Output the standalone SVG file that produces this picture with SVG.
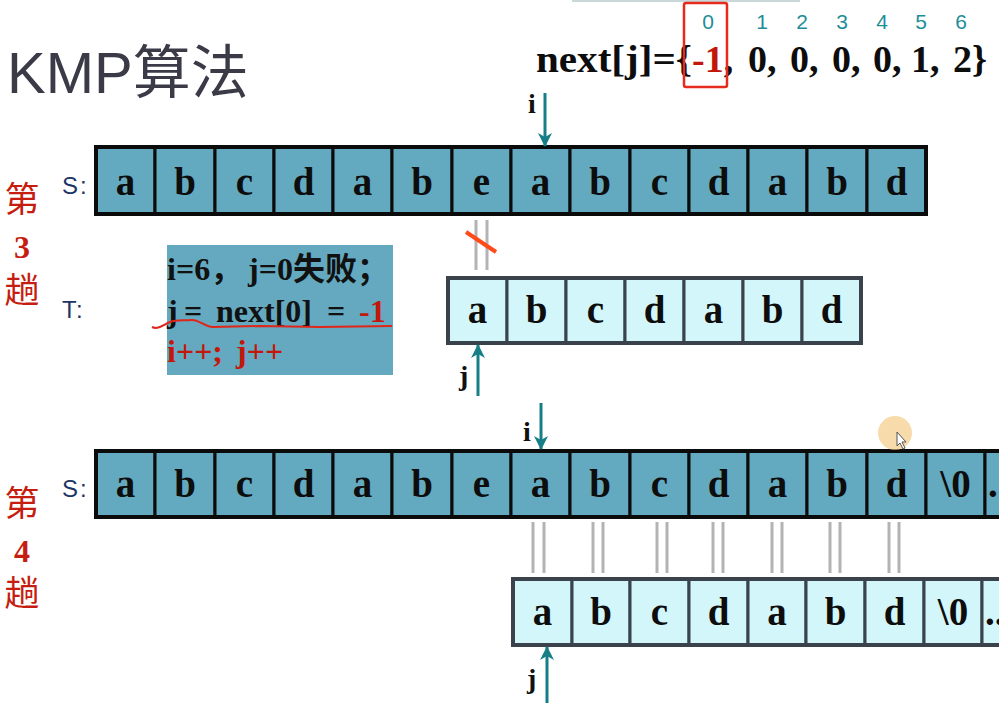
<svg xmlns="http://www.w3.org/2000/svg" width="999" height="710" viewBox="0 0 999 710">
<style>
.ch{font-family:"Liberation Serif",serif;font-weight:bold;font-size:39px;text-anchor:middle;fill:#0d0d0d}
.sc{fill:#63a9bf;stroke:#0b0b0b;stroke-width:3}
.tc{fill:#d3f6fb;stroke:#3a424c;stroke-width:3}
.lbl{font-family:"Liberation Sans","Noto Sans",sans-serif;font-size:24px;fill:#1d3566;letter-spacing:2px}
.trip{font-family:"Noto Sans CJK SC",sans-serif;font-size:35px;fill:#c51d10;text-anchor:middle}
.num{font-family:"Liberation Serif",serif;font-weight:bold;font-size:32px;fill:#c51d10;text-anchor:middle}
.ptr{font-family:"Liberation Serif",serif;font-weight:bold;font-size:28px;fill:#111}
.big{font-family:"Liberation Serif",serif;font-weight:bold;font-size:38px;fill:#0d0d0d}
.idx{font-family:"Liberation Sans","Noto Sans",sans-serif;font-size:21px;fill:#1d8e99;text-anchor:middle}
.box{font-family:"Liberation Serif","Noto Sans CJK SC",serif;font-weight:bold;font-size:32px;fill:#111}
.red{fill:#c3170c}
.eq{stroke:#b3b3b3;stroke-width:3}
.arr{stroke:#157e87;stroke-width:3;fill:none;marker-end:url(#ah)}
</style>
<defs>
<marker id="ah" viewBox="0 0 14 14" refX="13" refY="7" markerWidth="14" markerHeight="14" markerUnits="userSpaceOnUse" orient="auto">
<path d="M0,0 L14,7 L0,14 L4,7 z" fill="#157e87"/>
</marker>
</defs>
<rect x="572" y="0" width="228" height="2" fill="#c9d6da"/>
<g id="title"><text x="7" y="93" font-family="Liberation Sans,Noto Sans CJK SC,sans-serif" font-size="58" fill="#3b3b48">KMP算法</text></g>

<g id="next-array">
<text class="idx" y="29"><tspan x="708">0</tspan><tspan x="762">1</tspan><tspan x="802">2</tspan><tspan x="842">3</tspan><tspan x="882">4</tspan><tspan x="921">5</tspan><tspan x="961">6</tspan></text>
<text class="big" x="536" y="72" textLength="156" lengthAdjust="spacingAndGlyphs">next[j]={</text>
<text class="big" x="692" y="72"><tspan class="red">-1</tspan>,</text>
<text class="big" x="748" y="72">0,</text>
<text class="big" x="790" y="72">0,</text>
<text class="big" x="832" y="72">0,</text>
<text class="big" x="873" y="72">0,</text>
<text class="big" x="911" y="72">1,</text>
<text class="big" x="953" y="72">2}</text>
<rect x="684" y="3" width="43" height="84" rx="2" fill="none" stroke="#e62a1e" stroke-width="2.5"/>
</g>

<g id="trip3-label">
<text class="trip" x="22" y="212">第</text>
<text class="num" x="22" y="258">3</text>
<text class="trip" x="22" y="303">趟</text>
</g>
<g id="trip4-label">
<text class="trip" x="22" y="516">第</text>
<text class="num" x="22" y="562">4</text>
<text class="trip" x="22" y="606">趟</text>
</g>

<g id="S3">
<text class="lbl" x="62" y="194">S:</text>
<rect class="sc" x="96" y="147" width="59" height="67"/><text class="ch" x="125.5" y="195">a</text>
<rect class="sc" x="155" y="147" width="60" height="67"/><text class="ch" x="185" y="195">b</text>
<rect class="sc" x="215" y="147" width="59" height="67"/><text class="ch" x="244.5" y="195">c</text>
<rect class="sc" x="274" y="147" width="59" height="67"/><text class="ch" x="303.5" y="195">d</text>
<rect class="sc" x="333" y="147" width="59" height="67"/><text class="ch" x="362.5" y="195">a</text>
<rect class="sc" x="392" y="147" width="60" height="67"/><text class="ch" x="422" y="195">b</text>
<rect class="sc" x="452" y="147" width="59" height="67"/><text class="ch" x="481.5" y="195">e</text>
<rect class="sc" x="511" y="147" width="59" height="67"/><text class="ch" x="540.5" y="195">a</text>
<rect class="sc" x="570" y="147" width="60" height="67"/><text class="ch" x="600" y="195">b</text>
<rect class="sc" x="630" y="147" width="59" height="67"/><text class="ch" x="659.5" y="195">c</text>
<rect class="sc" x="689" y="147" width="59" height="67"/><text class="ch" x="718.5" y="195">d</text>
<rect class="sc" x="748" y="147" width="59" height="67"/><text class="ch" x="777.5" y="195">a</text>
<rect class="sc" x="807" y="147" width="60" height="67"/><text class="ch" x="837" y="195">b</text>
<rect class="sc" x="867" y="147" width="59" height="67"/><text class="ch" x="896.5" y="195">d</text>
<rect x="96" y="147" width="830" height="67" fill="none" stroke="#0b0b0b" stroke-width="4"/>
</g>

<g id="T3">
<text class="lbl" x="62" y="318">T:</text>
<rect class="tc" x="448" y="278" width="59" height="65"/><text class="ch" x="477.5" y="323">a</text>
<rect class="tc" x="507" y="278" width="59" height="65"/><text class="ch" x="536.5" y="323">b</text>
<rect class="tc" x="566" y="278" width="59" height="65"/><text class="ch" x="595.5" y="323">c</text>
<rect class="tc" x="625" y="278" width="59" height="65"/><text class="ch" x="654.5" y="323">d</text>
<rect class="tc" x="684" y="278" width="59" height="65"/><text class="ch" x="713.5" y="323">a</text>
<rect class="tc" x="743" y="278" width="59" height="65"/><text class="ch" x="772.5" y="323">b</text>
<rect class="tc" x="802" y="278" width="59" height="65"/><text class="ch" x="831.5" y="323">d</text>
<rect x="448" y="278" width="413" height="65" fill="none" stroke="#3a424c" stroke-width="4"/>
</g>

<g id="note">
<rect x="167" y="245" width="226" height="130" fill="#64a9bf"/>
<text class="box" y="280"><tspan x="167">i=6，</tspan><tspan x="248">j=0失败；</tspan></text>
<text class="box" y="322"><tspan x="167">j</tspan><tspan x="184">=</tspan><tspan x="216">next[0]</tspan><tspan x="327">=</tspan><tspan x="359" class="red">-1</tspan></text>
<text class="box red" y="362"><tspan x="167">i++;</tspan><tspan x="236">j++</tspan></text>
<path d="M152,327 C158,330 163,325 170,322 C178,319 185,321 191,320 C199,319 204,327 213,327 L260,326 L320,327 L392,326" fill="none" stroke="#e0261a" stroke-width="2"/>
</g>

<g id="S4">
<text class="lbl" x="62" y="497">S:</text>
<rect class="sc" x="96" y="451" width="59" height="66"/><text class="ch" x="125.5" y="497">a</text>
<rect class="sc" x="155" y="451" width="60" height="66"/><text class="ch" x="185" y="497">b</text>
<rect class="sc" x="215" y="451" width="59" height="66"/><text class="ch" x="244.5" y="497">c</text>
<rect class="sc" x="274" y="451" width="59" height="66"/><text class="ch" x="303.5" y="497">d</text>
<rect class="sc" x="333" y="451" width="59" height="66"/><text class="ch" x="362.5" y="497">a</text>
<rect class="sc" x="392" y="451" width="60" height="66"/><text class="ch" x="422" y="497">b</text>
<rect class="sc" x="452" y="451" width="59" height="66"/><text class="ch" x="481.5" y="497">e</text>
<rect class="sc" x="511" y="451" width="59" height="66"/><text class="ch" x="540.5" y="497">a</text>
<rect class="sc" x="570" y="451" width="60" height="66"/><text class="ch" x="600" y="497">b</text>
<rect class="sc" x="630" y="451" width="59" height="66"/><text class="ch" x="659.5" y="497">c</text>
<rect class="sc" x="689" y="451" width="59" height="66"/><text class="ch" x="718.5" y="497">d</text>
<rect class="sc" x="748" y="451" width="59" height="66"/><text class="ch" x="777.5" y="497">a</text>
<rect class="sc" x="807" y="451" width="60" height="66"/><text class="ch" x="837" y="497">b</text>
<rect class="sc" x="867" y="451" width="59" height="66"/><text class="ch" x="896.5" y="497">d</text>
<rect class="sc" x="926" y="451" width="59" height="66"/><text class="ch" x="955.5" y="497">\0</text>
<rect class="sc" x="985" y="451" width="59" height="66"/><text class="ch" x="988" y="497" style="text-anchor:start">...</text>
<rect x="96" y="451" width="960" height="66" fill="none" stroke="#0b0b0b" stroke-width="4"/>
</g>

<g id="T4">
<rect class="tc" x="513" y="579" width="59" height="66"/><text class="ch" x="542.5" y="625">a</text>
<rect class="tc" x="572" y="579" width="58" height="66"/><text class="ch" x="601" y="625">b</text>
<rect class="tc" x="630" y="579" width="59" height="66"/><text class="ch" x="659.5" y="625">c</text>
<rect class="tc" x="689" y="579" width="59" height="66"/><text class="ch" x="718.5" y="625">d</text>
<rect class="tc" x="748" y="579" width="58" height="66"/><text class="ch" x="777" y="625">a</text>
<rect class="tc" x="806" y="579" width="59" height="66"/><text class="ch" x="835.5" y="625">b</text>
<rect class="tc" x="865" y="579" width="59" height="66"/><text class="ch" x="894.5" y="625">d</text>
<rect class="tc" x="924" y="579" width="58" height="66"/><text class="ch" x="953" y="625">\0</text>
<rect class="tc" x="982" y="579" width="59" height="66"/><text class="ch" x="985" y="625" style="text-anchor:start">...</text>
<rect x="513" y="579" width="540" height="66" fill="none" stroke="#3a424c" stroke-width="4"/>
</g>

<g id="connectors">
<line class="arr" x1="545" y1="93" x2="545" y2="146"/>
<line class="arr" x1="478" y1="396" x2="478" y2="345"/>
<line class="arr" x1="541" y1="403" x2="541" y2="449"/>
<line class="arr" x1="547" y1="703" x2="547" y2="647"/>
<line class="eq" x1="476" y1="220" x2="476" y2="270"/>
<line class="eq" x1="487" y1="220" x2="487" y2="270"/>
<line x1="466" y1="232" x2="496" y2="252" stroke="#ff4a1a" stroke-width="4"/>
<line class="eq" x1="533" y1="522" x2="533" y2="573"/><line class="eq" x1="544" y1="522" x2="544" y2="573"/>
<line class="eq" x1="593" y1="522" x2="593" y2="573"/><line class="eq" x1="603" y1="522" x2="603" y2="573"/>
<line class="eq" x1="657" y1="522" x2="657" y2="573"/><line class="eq" x1="667" y1="522" x2="667" y2="573"/>
<line class="eq" x1="713" y1="522" x2="713" y2="573"/><line class="eq" x1="723" y1="522" x2="723" y2="573"/>
<line class="eq" x1="772" y1="522" x2="772" y2="573"/><line class="eq" x1="782" y1="522" x2="782" y2="573"/>
<line class="eq" x1="830" y1="522" x2="830" y2="573"/><line class="eq" x1="840" y1="522" x2="840" y2="573"/>
<line class="eq" x1="889" y1="522" x2="889" y2="573"/><line class="eq" x1="899" y1="522" x2="899" y2="573"/>
</g>

<g id="pointers">
<text class="ptr" x="528" y="113">i</text>
<text class="ptr" x="459" y="385">j</text>
<text class="ptr" x="523" y="441">i</text>
<text class="ptr" x="527" y="688">j</text>
</g>

<g id="cursor">
<circle cx="895" cy="433" r="17" fill="#f5c77e" opacity="0.65"/>
<path d="M897,432 L897,446 L900,443 L903,449 L905,448 L902,442 L906,442 z" fill="#ffffff" stroke="#555" stroke-width="1"/>
</g>
</svg>
